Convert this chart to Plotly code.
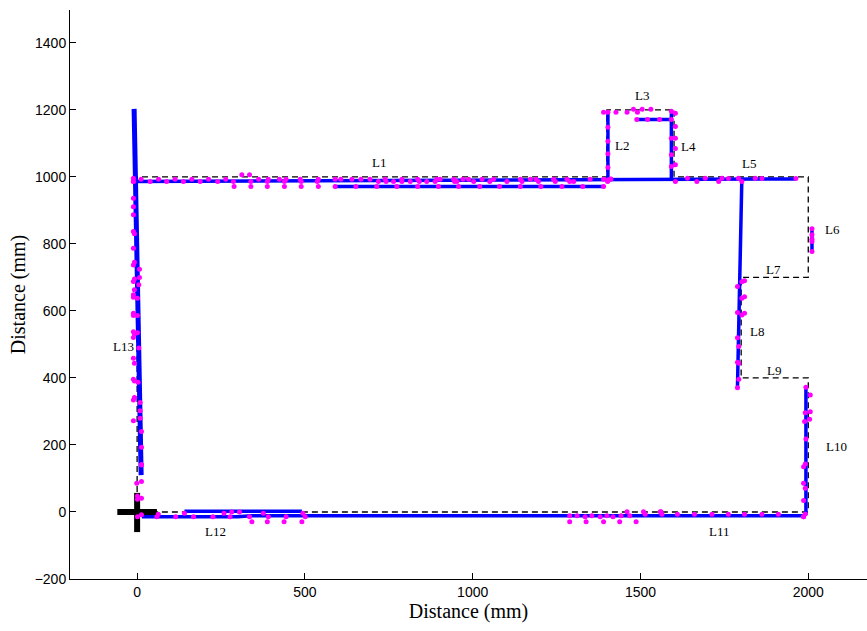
import plotly.graph_objects as go

# Ground-truth layout (dashed black)
truth_x = [0, 0, 1400, 1400, 1600, 1600, 2000, 2000, 1800, 1800, 2000, 2000, 0]
truth_y = [0, 1000, 1000, 1200, 1200, 1000, 1000, 700, 700, 400, 400, 0, 0]

# Estimated map segments (blue)
seg_L13_x = [-9, 12]
seg_L13_y = [1203, 110]
seg_L1_x = [-9, 1403, 1963]
seg_L1_y = [986, 993, 994]
seg_L1b_x = [587, 1392]
seg_L1b_y = [971, 971]
seg_L2_x = [1403, 1403]
seg_L2_y = [993, 1190]
seg_L3_x = [1487, 1592]
seg_L3_y = [1171, 1171]
seg_L4_x = [1592, 1592]
seg_L4_y = [1190, 993]
seg_L6_x = [2011, 2011]
seg_L6_y = [845, 777]
seg_L8_x = [1802, 1789]
seg_L8_y = [993, 371]
seg_L10_x = [1993, 1993]
seg_L10_y = [373, -9]
seg_L11_x = [14, 300, 340, 1993]
seg_L11_y = [-14, -14, -11, -11]
seg_L12_x = [141, 491]
seg_L12_y = [2, 2]

blue_segments = [
    (seg_L13_x, seg_L13_y), (seg_L1_x, seg_L1_y), (seg_L1b_x, seg_L1b_y),
    (seg_L2_x, seg_L2_y), (seg_L3_x, seg_L3_y), (seg_L4_x, seg_L4_y),
    (seg_L6_x, seg_L6_y), (seg_L8_x, seg_L8_y), (seg_L10_x, seg_L10_y),
    (seg_L11_x, seg_L11_y), (seg_L12_x, seg_L12_y),
]

# Sensor points (magenta)
pts_L13_x = [-11, -11, -11, -11, -11, -8, -11, -8, -11, 7, -8, 7, -11, -8, 5, -11, -11, 1,
             -11, -11, 1, -11, -8, 1, -11, 5, -11, -8, -11, -8, 3, -8, -11, 9, 9, 9, -11,
             13, 13, 13, -1, 13, 1, 13, 1, 13, 1, 13]
pts_L13_y = [986, 936, 911, 887, 837, 830, 787, 745, 737, 724, 695, 700, 688, 663, 678, 648, 641, 638,
             593, 586, 586, 538, 531, 535, 521, 489, 459, 444, 396, 391, 387, 342, 334, 327, 302, 280, 272,
             240, 193, 140, 86, 91, 48, 142, 38, 41, -14, -8]

pts_L1_x = [-11, -11, 12, 39, 64, 88, 113, 138, 163, 188, 213, 240, 264, 287, 289, 312, 335, 339, 339,
            362, 388, 388, 391, 424, 439, 439, 444, 486, 489, 489, 537, 540, 540,
            590, 590, 607, 640, 652, 667, 694, 714, 719, 739, 742, 764, 774, 789, 789, 814, 836, 836,
            841, 863, 888, 893, 898, 903, 943, 946, 953, 958, 971, 988, 1003, 1021, 1028, 1051, 1062,
            1080, 1102, 1142, 1142, 1147, 1172, 1189, 1196, 1203, 1241, 1246, 1266, 1281, 1289, 1301,
            1328, 1350, 1390, 1390, 1402, 1410]
pts_L1_y = [996, 986, 993, 986, 993, 986, 993, 986, 993, 986, 993, 986, 993, 986, 971, 1006, 1006, 986, 971,
            993, 986, 971, 993, 993, 986, 971, 993, 993, 986, 971, 986, 993, 971,
            993, 971, 993, 993, 971, 993, 993, 971, 986, 993, 986, 986, 971, 993, 986, 986, 993, 971,
            986, 986, 986, 993, 971, 993, 993, 986, 986, 971, 993, 993, 986, 971, 993, 986, 993,
            971, 986, 993, 971, 986, 993, 993, 986, 971, 993, 986, 971, 993, 986, 986,
            971, 993, 971, 993, 986, 993]

pts_L2_x = [1403, 1403, 1403, 1403, 1403, 1403, 1412]
pts_L2_y = [1193, 1148, 1106, 1069, 1028, 991, 994]

pts_L3_x = [1390, 1427, 1460, 1479, 1491, 1505, 1531, 1489, 1521, 1557, 1592]
pts_L3_y = [1193, 1193, 1193, 1202, 1193, 1202, 1202, 1171, 1171, 1171, 1171]

pts_L4_x = [1592, 1604, 1604, 1604, 1592, 1604, 1592, 1604, 1592, 1604]
pts_L4_y = [1196, 1190, 1150, 1115, 1115, 1085, 1066, 1036, 1031, 986]

pts_L5_x = [1640, 1668, 1693, 1733, 1743, 1762, 1792, 1802, 1842, 1862, 1963]
pts_L5_y = [996, 986, 996, 986, 996, 995, 996, 986, 996, 995, 995]

pts_L6_x = [2011, 2011, 2011, 2011, 2011]
pts_L6_y = [845, 827, 814, 807, 777]

pts_L8_x = [1802, 1810, 1789, 1802, 1810, 1789, 1802, 1810, 1789, 1793, 1789, 1793, 1793, 1789]
pts_L8_y = [687, 690, 673, 638, 642, 595, 588, 593, 520, 494, 447, 444, 396, 371]

pts_L10_x = [1993, 2006, 1991, 2006, 1989, 2004, 1993, 1991, 1986, 1986, 1991, 1986, 1991, 1986]
pts_L10_y = [372, 349, 296, 299, 270, 277, 218, 143, 135, 86, 71, 34, -6, -14]

pts_L11_x = [1289, 1289, 1311, 1335, 1338, 1355, 1380, 1390, 1400, 1418, 1438, 1442, 1460, 1468,
             1487, 1509, 1514, 1561, 1559, 1564, 1610, 1661, 1713, 1762, 1810, 1862, 1911, 1986]
pts_L11_y = [-11, -29, -11, -14, -29, -11, -14, -29, -11, -14, -29, -11, 1, -11,
             -29, 1, -7, 1, 1, -7, -7, -7, -7, -7, -7, -7, -7, -14]

pts_L12_x = [59, 63, 115, 141, 168, 226, 259, 277, 282, 305, 335, 342, 376, 388, 391, 438, 444,
             491, 494, 501]
pts_L12_y = [-14, -7, -14, -4, -14, -14, -4, -14, 0, 0, -14, -29, -4, -29, -14, -29, -14,
             -29, -4, -14]

pts_x = pts_L13_x + pts_L1_x + pts_L2_x + pts_L3_x + pts_L4_x + pts_L5_x + pts_L6_x + pts_L8_x + pts_L10_x + pts_L11_x + pts_L12_x
pts_y = pts_L13_y + pts_L1_y + pts_L2_y + pts_L3_y + pts_L4_y + pts_L5_y + pts_L6_y + pts_L8_y + pts_L10_y + pts_L11_y + pts_L12_y

# Start marker (cross)
cross_h_x = [-59, 59]
cross_h_y = [0, 0]
cross_v_x = [0, 0]
cross_v_y = [57, -60]

# Labels
label_text = ["L1", "L2", "L3", "L4", "L5", "L6", "L7", "L8", "L9", "L10", "L11", "L12", "L13"]
label_x = [721, 1445, 1504, 1642, 1823, 2073, 1895, 1847, 1897, 2083, 1735, 235, -41]
label_y = [1042, 1093, 1242, 1090, 1041, 842, 724, 540, 422, 194, -59, -59, 493]

x_ticks = [0, 500, 1000, 1500, 2000]
y_ticks = [-200, 0, 200, 400, 600, 800, 1000, 1200, 1400]

fig = go.Figure()
fig.add_trace(go.Scatter(x=truth_x, y=truth_y, mode="lines",
                         line=dict(color="black", width=1.3, dash="6px,4px"), hoverinfo="skip"))
fig.add_trace(go.Scatter(x=cross_h_x, y=cross_h_y, mode="lines",
                         line=dict(color="black", width=6), hoverinfo="skip"))
fig.add_trace(go.Scatter(x=cross_v_x, y=cross_v_y, mode="lines",
                         line=dict(color="black", width=6), hoverinfo="skip"))
for i, (sx, sy) in enumerate(blue_segments):
    fig.add_trace(go.Scatter(x=sx, y=sy, mode="lines",
                             line=dict(color="#0000FF", width=5 if i == 0 else 3.5), hoverinfo="skip"))
fig.add_trace(go.Scatter(x=pts_x, y=pts_y, mode="markers",
                         marker=dict(color="#FF00FF", size=5, line=dict(width=0)), hoverinfo="skip"))

for t, lx, ly in zip(label_text, label_x, label_y):
    fig.add_annotation(x=lx, y=ly, text=t, showarrow=False,
                       font=dict(family="Liberation Serif", size=13, color="black"))

axis_common = dict(showgrid=False, zeroline=False, showline=True, linecolor="black", linewidth=1,
                   ticks="inside", ticklen=6, tickcolor="black", tickwidth=1,
                   tickfont=dict(family="Liberation Sans", size=14, color="black"),
                   mirror=False)

fig.update_layout(
    width=867, height=631,
    margin=dict(l=70, r=0, t=10, b=52),
    paper_bgcolor="white", plot_bgcolor="white",
    showlegend=False,
    xaxis=dict(range=[-200, 2175], tickvals=x_ticks,
               title=dict(text="Distance (mm)", standoff=5,
                          font=dict(family="Liberation Serif", size=20, color="black")),
               **axis_common),
    yaxis=dict(range=[-200, 1498], tickvals=y_ticks,
               title=dict(text="Distance (mm)", standoff=3,
                          font=dict(family="Liberation Serif", size=20, color="black")),
               **axis_common),
)

fig.write_html("out.html")
